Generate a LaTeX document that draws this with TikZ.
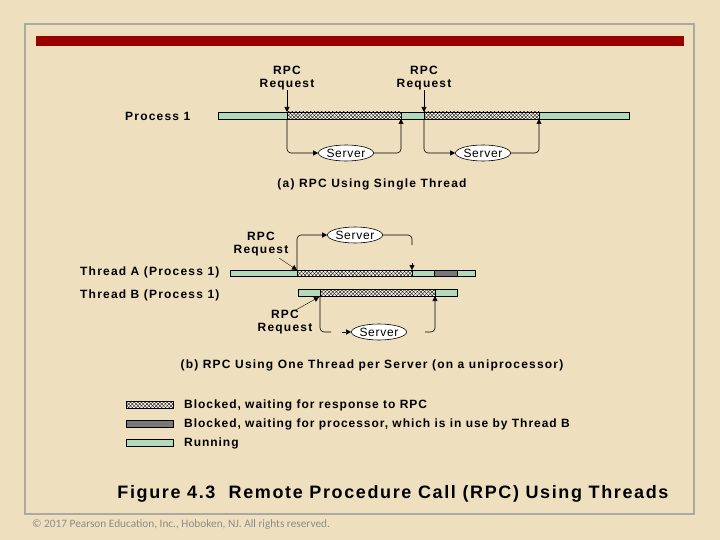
\documentclass[tikz,border=0pt]{standalone}
\usepackage{fontspec}
\setmainfont{Liberation Sans}
\newfontfamily\copyfont{Carlito}
\usetikzlibrary{patterns.meta,arrows.meta,shapes.geometric}
\definecolor{parch}{RGB}{238,223,190}
\definecolor{runc}{RGB}{178,218,184}
\definecolor{waitc}{RGB}{120,120,120}
\definecolor{redbar}{RGB}{153,0,0}
\definecolor{framec}{RGB}{172,168,163}
\definecolor{hatchbg}{RGB}{246,241,228}
\tikzset{
  run/.style={draw=black, line width=0.6pt, fill=runc},
  hatch/.style={draw=black, line width=0.6pt, fill=hatchbg,
    postaction={pattern={Lines[angle=45,distance=2.6pt,line width=0.35pt]}},
    postaction={pattern={Lines[angle=-45,distance=2.6pt,line width=0.35pt]}}},
  waitbox/.style={draw=black, line width=0.6pt, fill=waitc},
  lbl/.style={font=\addfontfeatures{LetterSpace=10}\bfseries\fontsize{12}{12.5}\selectfont, align=center, inner sep=0pt},
  legtxt/.style={font=\addfontfeatures{LetterSpace=8}\bfseries\fontsize{12}{12.5}\selectfont, anchor=west, inner sep=0pt},
  srv/.style={ellipse, draw, fill=white, line width=0.6pt, minimum width=53pt, minimum height=16pt, inner sep=0pt,
    font=\addfontfeatures{LetterSpace=6}\fontsize{12}{12}\selectfont},
  conn/.style={line width=0.6pt, rounded corners=4pt},
  tip/.style={-{Triangle[length=5pt,width=5pt]}}
}
\begin{document}
\begin{tikzpicture}[x=1pt,y=-1pt]
\fill[parch] (0,0) rectangle (720,540);
\useasboundingbox (0,0) rectangle (720,540);
\draw[framec, line width=1.3pt] (25,24) rectangle (694,514);
\fill[redbar] (36,36) rectangle (684,46);

% ---------- (a) ----------
\node[lbl] (req1) at (287,78) {RPC\\Request};
\node[lbl] (req2) at (424,78) {RPC\\Request};
\node[lbl, anchor=west] (p1) at (125,116) {Process 1};
\draw[run] (218,112) rectangle (287,119);
\draw[hatch] (287,112) rectangle (401,119);
\draw[run] (401,112) rectangle (424,119);
\draw[hatch] (424,112) rectangle (539,119);
\draw[run] (539,112) rectangle (629,119);
\coordinate (c1) at (287,112);
\coordinate (c1b) at (287,119);
\coordinate (r1) at (401,119);
\coordinate (c2) at (424,112);
\coordinate (c2b) at (424,119);
\coordinate (r2) at (539,119);
\draw[conn,tip] (req1.south) -- (c1);
\draw[conn,tip] (req2.south) -- (c2);
\node[srv] (s1) at (346,153) {Server};
\node[srv] (s2) at (483,153) {Server};
\draw[conn,tip] (c1b) |- (s1.west);
\draw[conn,tip] (s1.east) -| (r1);
\draw[conn,tip] (c2b) |- (s2.west);
\draw[conn,tip] (s2.east) -| (r2);
\node[lbl] (capa) at (372,184) {(a) RPC Using Single Thread};

% ---------- (b) ----------
\node[lbl] (reqA) at (261,244) {RPC\\Request};
\node[lbl, anchor=west] (tA) at (80,272) {Thread A (Process 1)};
\node[lbl, anchor=west] (tB) at (80,295) {Thread B (Process 1)};
\draw[run] (230,270) rectangle (297,276);
\draw[hatch] (297,270) rectangle (412,276);
\draw[run] (412,270) rectangle (434,276);
\draw[waitbox] (434,270) rectangle (457,276);
\draw[run] (457,270) rectangle (475,276);
\draw[run] (298,289) rectangle (320,296);
\draw[hatch] (320,289) rectangle (435,296);
\draw[run] (435,289) rectangle (457,296);

\coordinate (aA) at (297,270);
\coordinate (reqAe) at (279,258);
\draw[tip] (reqAe) -- (aA);
\node[srv] (sA) at (355,235) {Server};
\draw[conn,tip] (aA) |- (sA.west);
\coordinate (eA) at (412,245);
\draw[conn] (sA.east) -| (eA);
\coordinate (aArs) at (412,263);
\coordinate (aAr) at (412,270);
\draw[tip] (aArs) -- (aAr);

\node[lbl] (reqB) at (285,322) {RPC\\Request};
\coordinate (bB) at (319,297);
\coordinate (reqBe) at (294,311);
\draw[tip] (reqBe) -- (bB);
\node[srv] (sB) at (379,332) {Server};
\coordinate (bBb) at (320,296);
\coordinate (bBe) at (331,332);
\draw[conn] (bBb) |- (bBe);
\coordinate (bBa) at (342,332);
\draw[tip] (bBa) -- (sB.west);
\coordinate (bBs) at (425,332);
\coordinate (bBr) at (435,296);
\draw[conn,tip] (bBs) -| (bBr);
\node[lbl] (capb) at (372,365) {(b) RPC Using One Thread per Server (on a uniprocessor)};

% ---------- legend ----------
\draw[hatch] (126,401) rectangle (173,408);
\draw[waitbox] (126,420) rectangle (173,427);
\draw[run] (126,439) rectangle (173,446);
\node[legtxt] (l1) at (184,405) {Blocked, waiting for response to RPC};
\node[legtxt] (l2) at (184,424) {Blocked, waiting for processor, which is in use by Thread B};
\node[legtxt] (l3) at (184,443) {Running};

\node[font=\addfontfeatures{LetterSpace=9}\bfseries\fontsize{18}{20}\selectfont, inner sep=0pt] (fig) at (393,494) {Figure 4.3\ \ Remote Procedure Call (RPC) Using Threads};
\node[anchor=west, text=black!45, font=\copyfont\fontsize{11.3}{12}\selectfont, inner sep=0pt] (copy) at (32,525) {© 2017 Pearson Education, Inc., Hoboken, NJ. All rights reserved.};
\end{tikzpicture}
\end{document}
